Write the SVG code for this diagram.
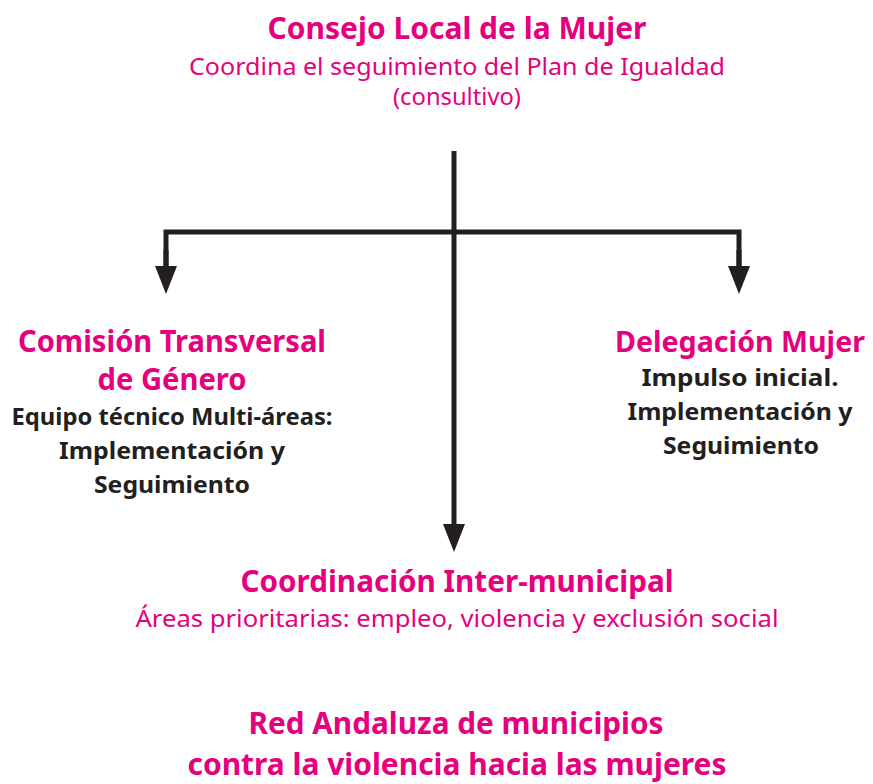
<svg xmlns="http://www.w3.org/2000/svg" width="873" height="784" viewBox="0 0 873 784">
<style>
text{font-family:"Noto Sans","DejaVu Sans",sans-serif;text-anchor:middle}
.h{fill:#e5007d;font-weight:bold;font-size:30px}
.s{fill:#e5007d;font-size:24px}
.b{fill:#231f20;font-weight:bold;font-size:23px}
.ln{stroke:#231f20;stroke-width:5;fill:none}
</style>
<defs>
<marker id="ah" markerUnits="userSpaceOnUse" markerWidth="28" markerHeight="22" refX="2" refY="11" orient="auto" viewBox="0 0 28 22">
<path d="M0,0 L28,11 L0,22 Z" fill="#231f20"/>
</marker>
</defs>
<rect width="873" height="784" fill="#fff"/>
<g id="connectors">
<path class="ln" d="M454,151 V526" marker-end="url(#ah)"/>
<path class="ln" d="M166,268 V232 H739 V268"/>
<path class="ln" d="M166,250 V268" marker-end="url(#ah)"/>
<path class="ln" d="M739,250 V268" marker-end="url(#ah)"/>
</g>
<g id="consejo">
<text class="h" x="457" y="39" textLength="379" lengthAdjust="spacingAndGlyphs">Consejo Local de la Mujer</text>
<text class="s" x="457" y="75" textLength="536" lengthAdjust="spacingAndGlyphs">Coordina el seguimiento del Plan de Igualdad</text>
<text class="s" x="457" y="105" textLength="128" lengthAdjust="spacingAndGlyphs">(consultivo)</text>
</g>
<g id="comision">
<text class="h" x="172" y="352" textLength="308" lengthAdjust="spacingAndGlyphs">Comisión Transversal</text>
<text class="h" x="172" y="390" textLength="149" lengthAdjust="spacingAndGlyphs">de Género</text>
<text class="b" x="172" y="425" textLength="321" lengthAdjust="spacingAndGlyphs">Equipo técnico Multi-áreas:</text>
<text class="b" x="172" y="459" textLength="226" lengthAdjust="spacingAndGlyphs">Implementación y</text>
<text class="b" x="172" y="493" textLength="156" lengthAdjust="spacingAndGlyphs">Seguimiento</text>
</g>
<g id="delegacion">
<text class="h" x="740" y="352" style="font-size:28px" textLength="250" lengthAdjust="spacingAndGlyphs">Delegación Mujer</text>
<text class="b" x="740" y="386" textLength="197" lengthAdjust="spacingAndGlyphs">Impulso inicial.</text>
<text class="b" x="740" y="420" textLength="225" lengthAdjust="spacingAndGlyphs">Implementación y</text>
<text class="b" x="741" y="454" textLength="156" lengthAdjust="spacingAndGlyphs">Seguimiento</text>
</g>
<g id="coordinacion">
<text class="h" x="457" y="592" textLength="433" lengthAdjust="spacingAndGlyphs">Coordinación Inter-municipal</text>
<text class="s" x="457" y="627" textLength="643" lengthAdjust="spacingAndGlyphs">Áreas prioritarias: empleo, violencia y exclusión social</text>
</g>
<g id="red">
<text class="h" x="456" y="734" textLength="415" lengthAdjust="spacingAndGlyphs">Red Andaluza de municipios</text>
<text class="h" x="457" y="775" textLength="539" lengthAdjust="spacingAndGlyphs">contra la violencia hacia las mujeres</text>
</g>
</svg>
